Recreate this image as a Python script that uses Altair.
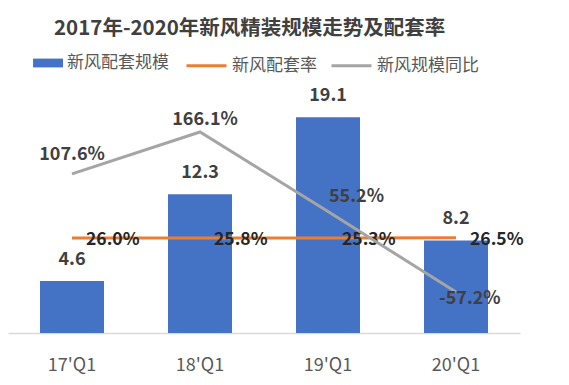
import altair as alt
import pandas as pd

categories = ["17'Q1", "18'Q1", "19'Q1", "20'Q1"]
scale_values = [4.6, 12.3, 19.1, 8.2]        # 新风配套规模
rate_values = [26.0, 25.8, 25.3, 26.5]       # 新风配套率 (%)
yoy_values = [107.6, 166.1, 55.2, -57.2]     # 新风规模同比 (%)
bar_series = ["新风配套规模"]
line_series = ["新风配套率", "新风规模同比"]
bar_colors = ["#4472C4"]
line_colors = ["#ED7D31", "#A5A5A5"]

df = pd.DataFrame({
    "cat": categories,
    "scale": scale_values,
    "rate": rate_values,
    "yoy": yoy_values,
})

FONT = "Noto Sans CJK SC"

x = alt.X("cat:N", sort=categories, title=None,
          scale=alt.Scale(paddingInner=0.5, paddingOuter=0.25),
          axis=alt.Axis(labelAngle=0, ticks=False, domainColor="#D9D9D9", domainWidth=1.5,
                        labelFontSize=18, labelColor="#595959", labelPadding=23,
                        labelFont=FONT, grid=False))

y_bar = alt.Y("scale:Q", axis=None, scale=alt.Scale(domain=[0, 21.7], nice=False, zero=True))
y_yoy = alt.Y("yoy:Q", axis=None, scale=alt.Scale(domain=[-114.4, 227.5], nice=False, zero=False))
y_rate = alt.Y("rate:Q", axis=None, scale=alt.Scale(domain=[-362, 638], nice=False, zero=False))

fill_enc = alt.Fill(
    "series:N", scale=alt.Scale(domain=bar_series, range=bar_colors),
    legend=alt.Legend(orient="none", legendX=11, legendY=-47, direction="horizontal",
                      title=None, symbolSize=1936, symbolType="M-0.36,-0.2H1V0.2H-0.36Z",
                      symbolStrokeWidth=0, labelFontSize=17, labelColor="#595959",
                      labelFont=FONT, labelOffset=4),
)
stroke_enc = alt.Stroke(
    "series:N", scale=alt.Scale(domain=line_series, range=line_colors),
    legend=alt.Legend(orient="none", legendX=177, legendY=-44, direction="horizontal",
                      title=None, symbolSize=1600, symbolType="M-1,0H1",
                      symbolStrokeWidth=3, labelFontSize=17, labelColor="#595959",
                      labelFont=FONT, labelOffset=4, columnPadding=8),
)

base = alt.Chart(df)

bars = base.mark_bar().transform_calculate(series="'新风配套规模'").encode(
    x=x, y=y_bar, fill=fill_enc)
bar_text = base.mark_text(font=FONT, fontSize=18, fontWeight="bold", color="#404040",
                          baseline="bottom", dy=-12).encode(
    x=x, y=y_bar, text=alt.Text("scale:Q", format=".1f"))

rate_line = base.mark_line(strokeWidth=3).transform_calculate(series="'新风配套率'").encode(
    x=x, y=y_rate, stroke=stroke_enc)
rate_text = base.mark_text(font=FONT, fontSize=17.5, fontWeight="bold", color="#262626",
                           align="left", baseline="middle", dx=14, dy=2).transform_calculate(
    lbl="format(datum.rate, '.1f') + '%'").encode(x=x, y=y_rate, text="lbl:N")

yoy_line = base.mark_line(strokeWidth=3).transform_calculate(series="'新风规模同比'").encode(
    x=x, y=y_yoy, stroke=stroke_enc)


def yoy_label(cat, **kw):
    return base.mark_text(font=FONT, fontSize=18, fontWeight="bold", color="#404040",
                          **kw).transform_filter(
        alt.FieldEqualPredicate(field="cat", equal=cat)).transform_calculate(
        lbl="(datum.yoy < 0 ? '-' : '') + format(abs(datum.yoy), '.1f') + '%'").encode(
        x=x, y=y_yoy, text="lbl:N")


yoy_texts = [
    yoy_label(categories[0], align="center", baseline="bottom", dy=-10),
    yoy_label(categories[1], align="center", baseline="bottom", dx=5, dy=-3),
    yoy_label(categories[2], align="left", baseline="middle", dx=1, dy=-14),
    yoy_label(categories[3], align="left", baseline="middle", dx=-17, dy=7),
]

chart = alt.layer(
    bars, bar_text, rate_line, rate_text, yoy_line, *yoy_texts
).resolve_scale(y="independent").properties(
    width=512, height=245,
    padding={"left": 0, "top": 80, "right": 41, "bottom": 44},
    autosize=alt.AutoSizeParams(type="none"),
    title=alt.TitleParams("2017年-2020年新风精装规模走势及配套率", fontSize=20.5,
                          fontWeight="bold", color="#404040", font=FONT,
                          anchor="start", dx=46, offset=2),
).configure(background="white").configure_view(strokeWidth=0, stroke="transparent")

chart.save("out.html", embed_options={"renderer": "svg", "actions": False})
